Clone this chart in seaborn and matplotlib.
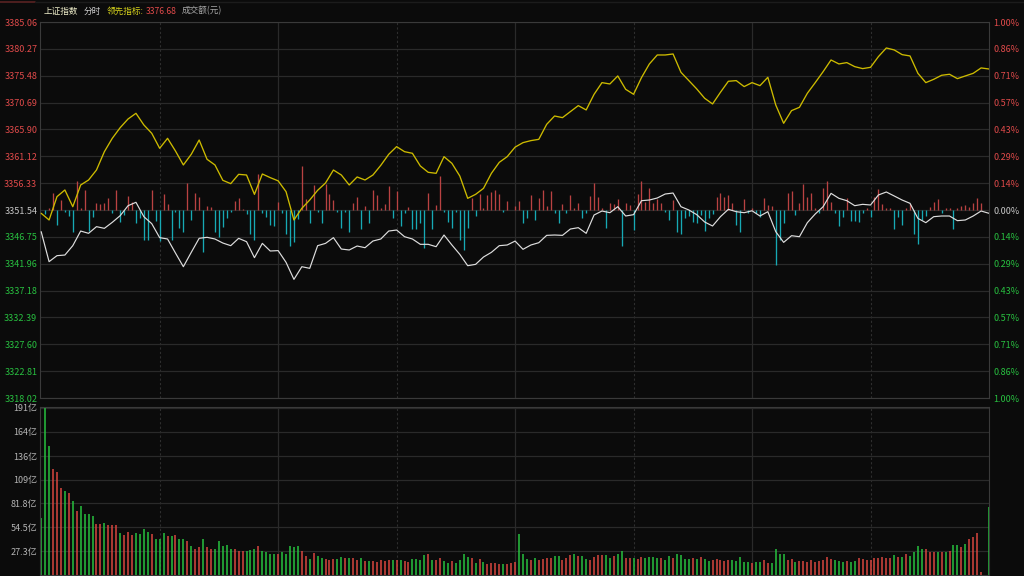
import numpy as np
import matplotlib
matplotlib.use('Agg')
import matplotlib.pyplot as plt
import seaborn as sns

sns.set_theme(style='dark')
plt.rcParams['font.family'] = ['Noto Sans CJK SC', 'DejaVu Sans']
plt.rcParams['axes.unicode_minus'] = False

# ---------------- 数据 ----------------
PREV_CLOSE = 3351.54
LEAD_LAST = '3376.68'

price_ticks = [3318.02, 3322.81, 3327.60, 3332.39, 3337.18, 3341.96, 3346.75, 3351.54,
               3356.33, 3361.12, 3365.90, 3370.69, 3375.48, 3380.27, 3385.06]
pct_labels = ['1.00%', '0.86%', '0.71%', '0.57%', '0.43%', '0.29%', '0.14%', '0.00%',
              '0.14%', '0.29%', '0.43%', '0.57%', '0.71%', '0.86%', '1.00%']
vol_ticks = [27.3, 54.5, 81.8, 109, 136, 164, 191]
vol_labels = ['27.3亿', '54.5亿', '81.8亿', '109亿', '136亿', '164亿', '191亿']

# 每 2 分钟取一个点 (0..240)
line_minutes = list(range(0, 241, 2))

index_price = [
    3347.68, 3342.33, 3343.40, 3343.51, 3345.18, 3347.79, 3347.38, 3348.57, 3348.27, 3349.34,
    3350.53, 3352.31, 3352.91, 3350.35, 3349.10, 3346.61, 3346.37, 3343.87, 3341.43, 3343.99,
    3346.49, 3346.67, 3346.37, 3345.65, 3345.18, 3346.49, 3345.89, 3343.04, 3345.59, 3344.23,
    3344.30,
    3342.21, 3339.17, 3341.43, 3341.14, 3345.18, 3345.59, 3346.61, 3344.58, 3344.41, 3345.12,
    3344.82, 3346.01, 3346.37, 3347.79, 3347.97, 3346.78, 3346.37, 3345.42, 3345.42, 3345.00,
    3347.08, 3345.30, 3343.63, 3341.61, 3341.85, 3343.16, 3343.99, 3345.18, 3345.30, 3346.00,
    3344.53, 3345.30, 3345.71, 3347.02, 3347.08, 3347.02, 3348.15, 3348.39, 3347.38, 3350.65,
    3351.36, 3351.06, 3352.13, 3350.47, 3350.71, 3353.20, 3353.32, 3353.68, 3354.39, 3354.57,
    3352.13, 3351.54, 3350.71, 3349.40, 3348.69, 3350.35, 3351.66, 3351.24, 3351.06, 3351.40,
    3350.47, 3351.24, 3347.68, 3345.77, 3346.96, 3346.78, 3349.28, 3350.83, 3352.13, 3354.51,
    3353.62, 3353.20, 3352.31, 3352.55, 3352.43, 3354.22, 3354.75, 3354.04, 3353.32, 3352.73,
    3350.05, 3349.28, 3350.35, 3350.47, 3350.47, 3349.64, 3349.76, 3350.47, 3351.36, 3350.95,
]

lead_price = [
    3350.95, 3349.76, 3353.92, 3355.11, 3352.13, 3356.00, 3356.89, 3358.67, 3361.94, 3364.32,
    3366.22, 3367.77, 3368.78, 3366.70, 3365.21, 3362.54, 3364.32, 3362.06, 3359.57, 3361.47,
    3364.02, 3360.58, 3359.57, 3356.83, 3356.24, 3357.90, 3357.78, 3354.33, 3357.96, 3357.31,
    3356.74,
    3354.81, 3349.76, 3351.84, 3353.32, 3355.05, 3356.36, 3358.67, 3357.78, 3356.00, 3357.43,
    3356.89, 3357.78, 3359.51, 3361.47, 3362.84, 3361.94, 3361.65, 3359.39, 3358.26, 3358.08,
    3361.05, 3359.86, 3357.60, 3353.62, 3354.33, 3355.40, 3358.08, 3360.04, 3361.05, 3362.75,
    3363.55, 3363.91, 3364.14, 3366.82, 3368.30, 3368.01, 3369.08, 3370.15, 3369.38, 3372.17,
    3374.25, 3374.01, 3375.44, 3373.06, 3372.17, 3375.14, 3377.58, 3379.18, 3379.18, 3379.36,
    3376.09, 3374.61, 3373.12, 3371.46, 3370.45, 3372.53, 3374.49, 3374.61, 3373.54, 3374.25,
    3373.71, 3375.20, 3370.27, 3367.00, 3369.26, 3369.85, 3372.35, 3374.25, 3376.21, 3378.29,
    3377.58, 3377.82, 3377.10, 3376.75, 3376.98, 3378.89, 3380.43, 3380.08, 3379.24, 3379.01,
    3375.91, 3374.25, 3374.84, 3375.56, 3375.74, 3374.96, 3375.44, 3375.91, 3376.87, 3376.68,
]

# 每分钟 (0..240)
bar_minutes = list(range(241))

# 红绿柱 (相对昨收的点数)
power_bars = [
    0, -0.8, 0.3, 3.0, -2.6, 1.8, -0.3, -1.0, -3.9, 5.2,
    0.3, 3.6, -3.8, -1.2, 1.3, 1.1, 1.3, 2.1, -0.6, 3.5,
    -2.1, -0.9, 2.5, 1.4, -2.4, -1.5, -5.4, -5.4, 3.6, -2.0,
    -5.5, 2.9, 1.0, -5.4, -0.4, -3.2, -3.9, 4.8, -1.8, 3.0,
    2.4, -7.4, 0.8, 0.5, -3.9, -4.8, -3.0, -1.5, -0.3, 1.6,
    2.1, 0.1, -0.8, -4.3, -5.4, 6.5, -0.6, -1.2, -2.7, -2.8,
    1.5,
    -0.6, -4.2, -6.4, -5.7, -1.6, 7.9, 2.0, -2.4, 4.5, -0.3,
    -2.4, 4.6, 2.8, 1.8, -0.3, -3.2, -0.3, -4.0, 1.2, 2.4,
    -3.4, 0.8, -2.4, 3.6, 2.7, 0.3, 1.1, 4.2, -1.4, 3.3,
    -2.8, -0.6, 0.5, -3.3, -3.3, -2.3, -6.7, 3.1, -3.3, 0.9,
    6.0, -0.3, -2.1, -3.2, -0.3, -5.4, -7.1, -3.2, 2.1, -1.0,
    2.8, 0.3, 2.6, 3.2, 3.6, 2.8, -0.3, 1.6, 0, 0.8,
    1.6, -2.4, -1.5, 2.6, -1.8, 2.1, 3.6, 0.7, 3.4, -0.6,
    -2.3, 1.1, -0.6, 2.6, 0.3, 1.2, -1.5, -0.6, 2.5, 4.8,
    2.4, 0.3, -3.2, 1.2, 1.1, 1.9, -6.4, 1.2, 0.9, -3.5,
    2.9, 5.1, 1.5, 4.0, 1.2, 1.9, 1.2, -0.3, -1.7, 1.8,
    -3.9, -4.2, -1.5, -1.1, -2.1, -2.4, -0.9, -3.7, -1.5, -0.7,
    2.3, 3.1, 2.4, 2.7, 1.2, -2.7, -4.0, 1.9, -0.6, 0.3,
    -0.6, -1.2, 2.1, 0.9, 0.7, -9.8, -5.4, -2.3, 3.0, 3.4,
    -0.9, 1.2, 4.6, 2.4, 3.0, 0.3, -0.6, 3.9, 5.2, 1.4,
    -0.5, -2.9, -1.2, 2.1, -1.9, -1.9, -2.1, -0.5, 0.3, -1.3,
    2.4, 3.8, 1.1, 0.3, 0.4, -3.3, -1.3, -2.6, 0.3, 1.1,
    -4.2, -6.1, -1.8, -1.0, 0.6, 1.5, 1.9, -0.5, 0.3, 0.3,
    -3.3, 0.3, 0.8, 0.9, 0.6, 1.2, 2.1, 1.2, 0, 0,
]

# 成交额 (亿元)
volume = [
    65.6, 191, 147, 121, 117.5, 99.3, 95.5, 93.6, 84.2, 72.8,
    78.5, 70.2, 70.2, 67.1, 58.8, 58.8, 59.5, 56.9, 56.9, 57.5,
    48.1, 45.5, 48.9, 45.5, 48.1, 47.4, 53.1, 48.9, 46.6, 40.6,
    41.7, 48.1, 44.4, 44.4, 46.3, 41.7, 41.7, 38.7, 33.4, 30.3,
    31.8, 41.7, 31.5, 29.6, 30.3, 39.0, 33.4, 34.1, 29.6, 30.3,
    27.3, 27.3, 27.7, 28.4, 30.3, 33.0, 27.7, 25.8, 23.9, 23.9,
    23.9, 25.8, 23.9, 33.0, 32.2, 33.0, 27.7, 21.6, 18.2, 25.4,
    21.6, 19.7, 18.2, 17.1, 17.8, 17.8, 20.8, 19.0, 19.7, 19.0,
    17.1, 19.7, 16.3, 15.9, 16.3, 15.2, 17.1, 15.9, 17.1, 17.1,
    17.1, 17.1, 15.9, 14.4, 18.2, 17.8, 17.1, 22.7, 23.9, 17.1,
    17.1, 19.0, 15.9, 14.0, 15.9, 14.0, 17.1, 23.9, 20.1, 19.0,
    13.3, 18.2, 14.4, 12.5, 13.3, 13.3, 12.5, 12.5, 12.5, 13.3,
    14.4,
    47.4, 23.9, 18.2, 17.1, 19.0, 17.1, 17.8, 19.0, 19.0, 21.6,
    21.6, 17.1, 19.7, 22.7, 23.5, 21.6, 21.6, 18.2, 17.1, 20.8,
    22.7, 22.7, 22.7, 19.0, 21.6, 23.5, 27.3, 19.7, 19.0, 19.0,
    18.2, 20.8, 19.7, 20.8, 20.1, 19.7, 19.7, 17.1, 21.6, 19.7,
    23.9, 22.7, 17.8, 17.8, 19.0, 17.8, 20.8, 17.8, 15.9, 17.1,
    18.2, 17.1, 16.3, 17.1, 17.1, 15.9, 20.1, 14.4, 14.4, 13.3,
    15.2, 14.4, 17.1, 13.3, 14.0, 29.2, 23.5, 23.9, 17.1, 17.8,
    14.4, 15.9, 15.9, 15.2, 17.1, 14.4, 15.9, 17.1, 20.1, 18.2,
    17.1, 15.9, 15.2, 16.3, 15.2, 15.9, 19.0, 17.8, 17.1, 17.1,
    19.0, 19.0, 20.8, 19.0, 19.7, 22.7, 20.3, 20.9, 23.9, 21.6,
    26.5, 33.0, 29.2, 29.2, 26.5, 26.5, 26.5, 26.5, 26.5, 27.7,
    34.1, 34.1, 32.2, 36.0, 40.6, 43.6, 48.5, 3.8, 0, 77.7,
]

# 成交额柱颜色: r=上涨 g=下跌
volume_dir = ('gggrrrgrgr' 'ggggrrgrrr' 'grrrggggrg' 'ggrgrggrgr'
              'rgrrgggggr' 'rrgggrgggg' 'rgggggrrgr'
              'ggrrrggrgr' 'rgrgrrrrrg' 'rgrrggggrg' 'rrggrggggr'
              'grgrrrrgrr' 'r'
              'gggrgrrrrg' 'grrrgrggrr' 'rrggrggrrg' 'rrggggrggr'
              'ggggrgrggr' 'rrrrgggggr' 'ggrrggggrr' 'grrrrrrrrr'
              'gggrggrrrr' 'rrrrrgrgrg' 'gggrrrgrgr' 'ggrgrrrrgg')

# ---------------- 样式 ----------------
BG = '#0b0b0b'
GRID = '#2a2a2a'
RED = '#e04a4a'
GREEN = '#28c040'
GRAY = '#c8c8c8'

fig = plt.figure(figsize=(10.24, 5.76), dpi=100, facecolor=BG)
ax = fig.add_axes([40 / 1024, 1 - 398 / 576, 949 / 1024, 376 / 576])
axv = fig.add_axes([40 / 1024, 1 - 575 / 576, 949 / 1024, 168 / 576])

for a in (ax, axv):
    a.set_facecolor(BG)
    a.set_xlim(-0.3, 240)
    a.set_xticks([])
    a.grid(False)
    for s in a.spines.values():
        s.set_color('#3a3a3a')
        s.set_linewidth(0.8)
    # 半小时竖线
    for m in (30, 60, 90, 120, 150, 180, 210):
        if m % 60 == 0:
            a.axvline(m, color=GRID, lw=0.9, zorder=0)
        else:
            a.axvline(m, color='#2e2e2e', lw=0.8, ls=(0, (2, 2)), zorder=0)

# ---------- 分时图 ----------
ax.set_ylim(price_ticks[0], price_ticks[-1])
for t in price_ticks:
    ax.axhline(t, color=GRID, lw=0.9, zorder=0)

bars = np.array(power_bars)
bar_colors = ['#b94242' if v >= 0 else '#17a9b4' for v in bars]
ax.vlines(bar_minutes, PREV_CLOSE, PREV_CLOSE + bars, colors=bar_colors, lw=0.95, zorder=2)

sns.lineplot(x=line_minutes, y=lead_price, ax=ax, color='#cdbb00', lw=0.95,
             estimator=None, zorder=3)
sns.lineplot(x=line_minutes, y=index_price, ax=ax, color='#dedede', lw=0.85,
             estimator=None, zorder=4)

ax.set_yticks(price_ticks)
ax.set_yticklabels([f'{t:.2f}' for t in price_ticks])
ax.tick_params(axis='y', length=0, pad=2, labelsize=6.5)
for lab, t in zip(ax.get_yticklabels(), price_ticks):
    lab.set_color(RED if t > PREV_CLOSE else (GREEN if t < PREV_CLOSE else GRAY))

axr = ax.twinx()
axr.set_ylim(ax.get_ylim())
axr.set_yticks(price_ticks)
axr.set_yticklabels(pct_labels)
axr.tick_params(axis='y', length=0, pad=3, labelsize=6.5)
axr.grid(False)
for s in axr.spines.values():
    s.set_visible(False)
for lab, t in zip(axr.get_yticklabels(), price_ticks):
    lab.set_color(RED if t > PREV_CLOSE else (GREEN if t < PREV_CLOSE else GRAY))

# ---------- 成交额 ----------
axv.set_ylim(0, 192.1)
for t in vol_ticks:
    axv.axhline(t, color=GRID, lw=0.9, zorder=0)
vol_colors = ['#d9463f' if c == 'r' else '#27c13f' for c in volume_dir]
axv.vlines(bar_minutes, 0, volume, colors=vol_colors, lw=1.1, zorder=2)
axv.set_yticks(vol_ticks)
axv.set_yticklabels(vol_labels)
axv.tick_params(axis='y', length=0, pad=2, labelsize=6.5, colors='#b4b4b4')

# ---------- 标题栏 ----------
ty = 1 - 11 / 576
fig.text(44 / 1024, ty, '上证指数', color='#ecebc8', fontsize=6.2, va='center')
fig.text(84 / 1024, ty, '分时', color='#d0d0d0', fontsize=6.2, va='center')
fig.text(107 / 1024, ty, '领先指标:', color='#d6d21c', fontsize=6.2, va='center')
fig.text(146 / 1024, ty, LEAD_LAST, color=RED, fontsize=6.2, va='center')
fig.text(182 / 1024, ty, '成交额(元)', color='#a8a8a8', fontsize=6.2, va='center')
fig.add_artist(plt.Line2D([0, 35 / 1024], [1 - 1.5 / 576] * 2, color='#5a2222', lw=1.2))
fig.add_artist(plt.Line2D([35 / 1024, 1], [1 - 1.5 / 576] * 2, color='#1c1c1c', lw=1.0))

fig.savefig('out.png', dpi=100, facecolor=BG)
